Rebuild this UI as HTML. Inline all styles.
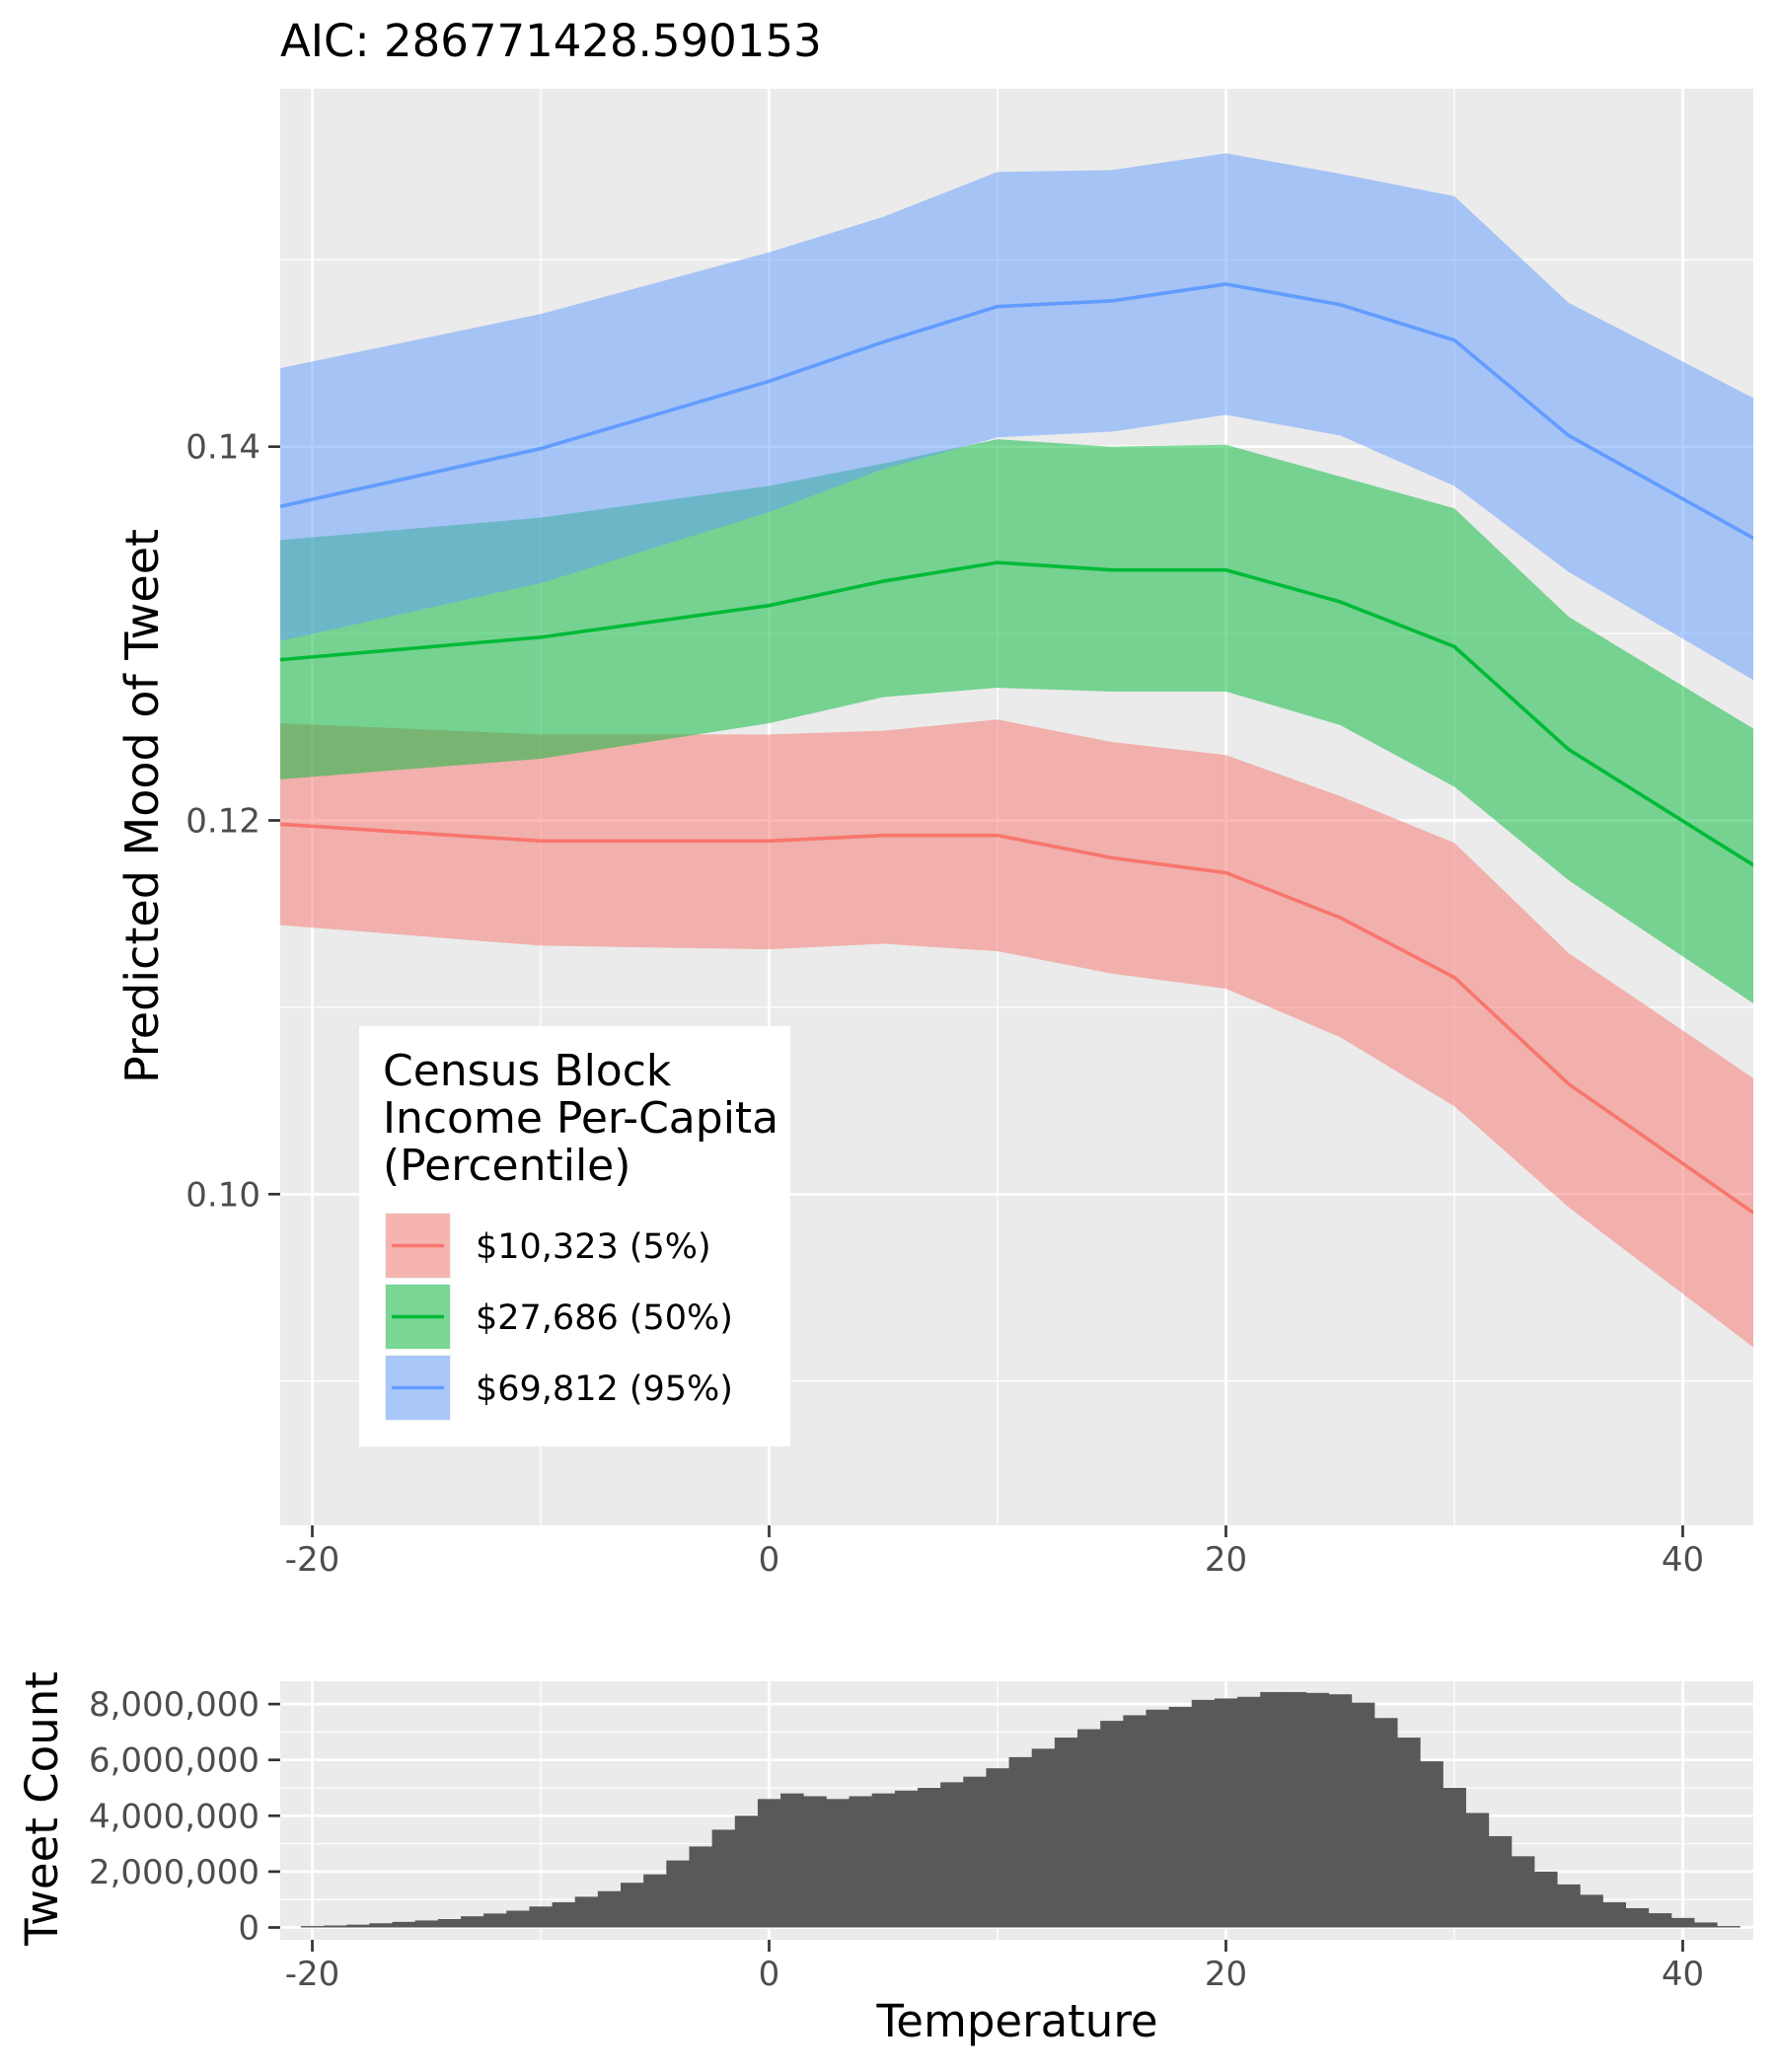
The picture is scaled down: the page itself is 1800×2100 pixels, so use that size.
<!DOCTYPE html>
<html><head><meta charset="utf-8"><style>
html,body{margin:0;padding:0;background:#fff;}
svg{display:block;font-family:"DejaVu Sans","Liberation Sans",sans-serif;}
</style></head><body>
<svg id="chart" width="1800" height="2100" viewBox="0 0 1800 2100" xmlns="http://www.w3.org/2000/svg">
<text x="284" y="57" font-size="45" fill="#000">AIC: 286771428.590153</text>
<g id="main"></g>
<g id="hist"></g>
</svg>
<script>
// ---- main chart data ----
const temps = [-21.4, -10, 0, 5, 10, 15, 20, 25, 30, 35, 43.1];
const redFit = [0.1198,0.1189,0.1189,0.1192,0.1192,0.1180,0.1172,0.1148,0.1116,0.1059,0.0990];
const redUpper = [0.1252,0.1246,0.1246,0.1248,0.1254,0.1242,0.1235,0.1213,0.1188,0.1129,0.1062];
const redLower = [0.1144,0.1133,0.1131,0.1134,0.1130,0.1118,0.1110,0.1084,0.1047,0.0993,0.0918];
const greenFit = [0.1286,0.1298,0.1315,0.1328,0.1338,0.1334,0.1334,0.1317,0.1293,0.1238,0.1176];
const greenUpper = [0.1350,0.1362,0.1379,0.1391,0.1404,0.1400,0.1401,0.1384,0.1367,0.1309,0.1249];
const greenLower = [0.1222,0.1233,0.1252,0.1266,0.1271,0.1269,0.1269,0.1251,0.1218,0.1168,0.1102];
const blueFit = [0.1368,0.1399,0.1435,0.1456,0.1475,0.1478,0.1487,0.1476,0.1457,0.1406,0.1351];
const blueUpper = [0.1442,0.1471,0.1504,0.1523,0.1547,0.1548,0.1557,0.1546,0.1534,0.1477,0.1426];
const blueLower = [0.1296,0.1327,0.1365,0.1388,0.1405,0.1408,0.1417,0.1406,0.1379,0.1333,0.1275];
const seriesNames = ["$10,323 (5%)", "$27,686 (50%)", "$69,812 (95%)"];
const xTicks = [-20, 0, 20, 40];
const xMinor = [-10, 10, 30];
const yTicks = [0.10, 0.12, 0.14];
const yMinor = [0.09, 0.11, 0.13, 0.15];
// ---- histogram data (bins centred on integer temperatures) ----
const binCenters = [];
for (let t = -20; t <= 42; t++) binCenters.push(t);
const counts = [0.05,0.07,0.1,0.15,0.2,0.25,0.3,0.4,0.5,0.6,0.75,0.9,1.1,1.3,1.6,1.9,2.4,2.9,3.5,4.0,4.6,4.8,4.7,4.6,4.7,4.8,4.9,5.0,5.2,5.4,5.7,6.1,6.4,6.8,7.1,7.4,7.6,7.8,7.9,8.15,8.2,8.26,8.43,8.43,8.4,8.35,8.05,7.5,6.8,5.95,5.0,4.1,3.27,2.55,2.0,1.54,1.17,0.9,0.69,0.51,0.34,0.18,0.05];
const countTicks = [0, 2, 4, 6, 8];
const countLabels = ["0","2,000,000","4,000,000","6,000,000","8,000,000"];

const NS = "http://www.w3.org/2000/svg";
function mk(parent, tag, attrs){const e=document.createElementNS(NS,tag);for(const k in attrs)e.setAttribute(k,attrs[k]);parent.appendChild(e);return e;}
const X = t => 316.5 + (t + 20) * 23.15;
const Y = v => 452.7 + (0.14 - v) * 18940;
const HY = c => 1953.5 - c * 28.3;
const L = 284, R = 1777;

// main panel
const main = document.getElementById('main');
const bg = mk(main,'rect',{x:L,y:90,width:R-L,height:1456,fill:'#EBEBEB'});


yMinor.forEach(v=>{const l=mk(main,'line',{x1:L,x2:R,y1:Y(v),y2:Y(v),stroke:'#fff','stroke-width':1.3});

});
xMinor.forEach(t=>{const l=mk(main,'line',{x1:X(t),x2:X(t),y1:90,y2:1546,stroke:'#fff','stroke-width':1.3});

});
yTicks.forEach(v=>{const l=mk(main,'line',{x1:L,x2:R,y1:Y(v),y2:Y(v),stroke:'#fff','stroke-width':2.7});


const tk=mk(main,'line',{x1:272,x2:L,y1:Y(v),y2:Y(v),stroke:'#333','stroke-width':2.7});


const tx=mk(main,'text',{x:264,y:Y(v)+12,'text-anchor':'end','font-size':34,fill:'#4D4D4D'});tx.textContent=v.toFixed(2);

});
xTicks.forEach(t=>{const l=mk(main,'line',{x1:X(t),x2:X(t),y1:90,y2:1546,stroke:'#fff','stroke-width':2.7});


const tk=mk(main,'line',{x1:X(t),x2:X(t),y1:1546,y2:1558,stroke:'#333','stroke-width':2.7});


const tx=mk(main,'text',{x:X(t),y:1592,'text-anchor':'middle','font-size':34,fill:'#4D4D4D'});tx.textContent=String(t);

});

const series = [
 {name:'income-5pct', fit:redFit, up:redUpper, lo:redLower, col:'#F8766D'},
 {name:'income-50pct', fit:greenFit, up:greenUpper, lo:greenLower, col:'#00BA38'},
 {name:'income-95pct', fit:blueFit, up:blueUpper, lo:blueLower, col:'#619CFF'}];
const clip = mk(main,'clipPath',{id:'mc'}); mk(clip,'rect',{x:L,y:90,width:R-L,height:1456});
const g = mk(main,'g',{'clip-path':'url(#mc)'});
series.forEach(s=>{
  let d='M'+temps.map((t,i)=>X(t)+','+Y(s.up[i])).join(' L');
  d+=' L'+temps.slice().reverse().map((t,j)=>{const i=temps.length-1-j;return X(t)+','+Y(s.lo[i]);}).join(' L')+' Z';
  const p=mk(g,'path',{d:d,fill:s.col,'fill-opacity':0.5});
  
  
});
series.forEach(s=>{
  const p=mk(g,'polyline',{points:temps.map((t,i)=>X(t)+','+Y(s.fit[i])).join(' '),fill:'none',stroke:s.col,'stroke-width':3.6});
  
  
});
const yt=mk(main,'text',{x:0,y:0,transform:'translate(160,817) rotate(-90)','text-anchor':'middle','font-size':46,fill:'#000'});
yt.textContent='Predicted Mood of Tweet';



// legend
const lg = mk(main,'g',{});


mk(lg,'rect',{x:364,y:1040,width:437,height:426,fill:'#fff'});
['Census Block','Income Per-Capita','(Percentile)'].forEach((s,i)=>{const t=mk(lg,'text',{x:388,y:1100+i*48,'font-size':44,fill:'#000'});t.textContent=s;

});
series.forEach((s,i)=>{
  const y0=1229+i*72;
  const e=mk(lg,'g',{});
  
  
  mk(e,'rect',{x:390,y:y0,width:67,height:67,fill:'#F2F2F2'});
  mk(e,'rect',{x:391,y:y0+1,width:65,height:65,fill:s.col,'fill-opacity':0.5});
  mk(e,'line',{x1:397,x2:450,y1:y0+33.5,y2:y0+33.5,stroke:s.col,'stroke-width':3.6});
  const t=mk(e,'text',{x:482,y:y0+46,'font-size':35,fill:'#000'});t.textContent=seriesNames[i];
});

// histogram
const hist = document.getElementById('hist');
const hb=mk(hist,'rect',{x:L,y:1704,width:R-L,height:262,fill:'#EBEBEB'});


countTicks.forEach((c,i)=>{
  if(i<countTicks.length-1){const mid=(c+countTicks[i+1])/2;const m=mk(hist,'line',{x1:L,x2:R,y1:HY(mid),y2:HY(mid),stroke:'#fff','stroke-width':1.3});
  
  }
});
const topMinor=mk(hist,'line',{x1:L,x2:R,y1:HY(9),y2:HY(9),stroke:'#fff','stroke-width':1.3});


const bmin=mk(hist,'line',{x1:L,x2:R,y1:HY(-1),y2:HY(-1),stroke:'#fff','stroke-width':1.3});


xMinor.forEach(t=>{const l=mk(hist,'line',{x1:X(t),x2:X(t),y1:1704,y2:1966,stroke:'#fff','stroke-width':1.3});

});
countTicks.forEach((c,i)=>{
  const l=mk(hist,'line',{x1:L,x2:R,y1:HY(c),y2:HY(c),stroke:'#fff','stroke-width':2.7});
  
  
  const tk=mk(hist,'line',{x1:272,x2:L,y1:HY(c),y2:HY(c),stroke:'#333','stroke-width':2.7});
  
  
  const tx=mk(hist,'text',{x:263,y:HY(c)+12,'text-anchor':'end','font-size':34,fill:'#4D4D4D'});tx.textContent=countLabels[i];
  
  
});
xTicks.forEach(t=>{const l=mk(hist,'line',{x1:X(t),x2:X(t),y1:1704,y2:1966,stroke:'#fff','stroke-width':2.7});


const tk=mk(hist,'line',{x1:X(t),x2:X(t),y1:1966,y2:1978,stroke:'#333','stroke-width':2.7});


const tx=mk(hist,'text',{x:X(t),y:2012,'text-anchor':'middle','font-size':34,fill:'#4D4D4D'});tx.textContent=String(t);

});
binCenters.forEach((t,i)=>{
  const x0=X(t-0.5), x1=X(t+0.5);
  const r=mk(hist,'rect',{x:x0,y:HY(counts[i]),width:x1-x0+0.4,height:HY(0)-HY(counts[i]),fill:'#595959'});
  
  
});
const ht=mk(hist,'text',{x:0,y:0,transform:'translate(58,1833) rotate(-90)','text-anchor':'middle','font-size':45,fill:'#000'});
ht.textContent='Tweet Count';


const xt=mk(hist,'text',{x:1031,y:2064,'text-anchor':'middle','font-size':45,fill:'#000'});
xt.textContent='Temperature';


</script>
</body></html>
